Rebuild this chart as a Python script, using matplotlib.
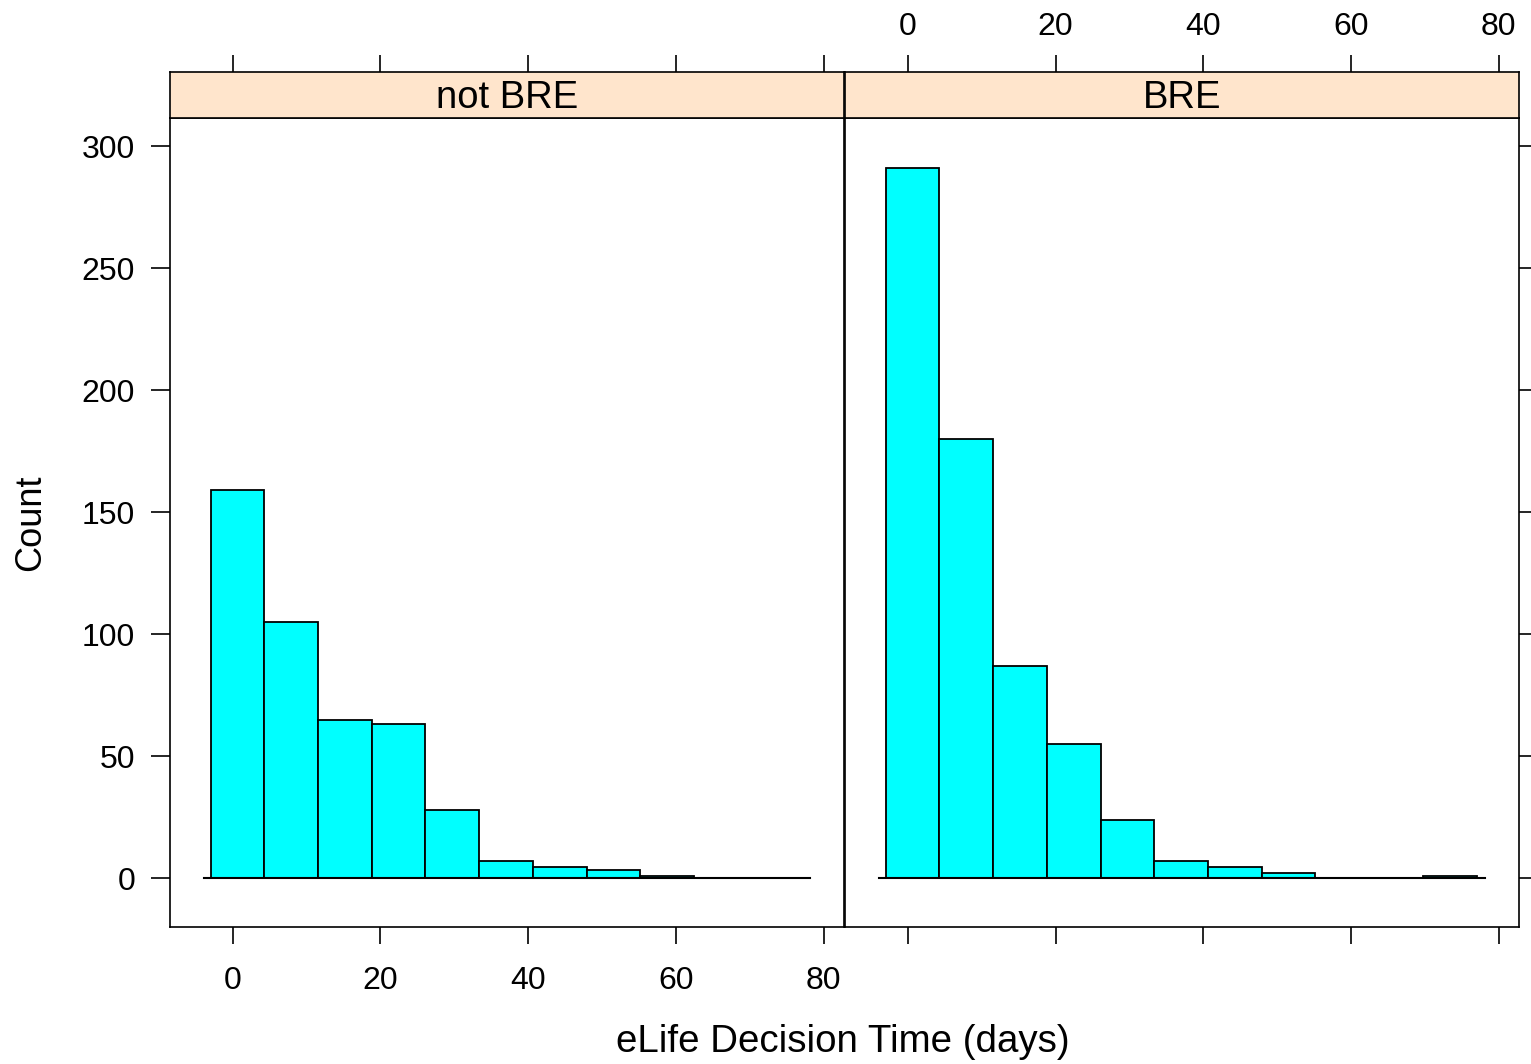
import matplotlib.pyplot as plt

plt.rcParams['font.family'] = ['Liberation Sans', 'DejaVu Sans']

# bin edges (days) and counts
bin_edges = [-3.0, 4.27, 11.55, 18.82, 26.09, 33.36, 40.64, 47.91, 55.18, 62.45, 69.73, 77.0]
counts_not_bre = [159, 105, 65, 63, 28, 7, 4.5, 3.3, 1, 0, 0]
counts_bre = [291, 180, 87, 55, 24, 7, 4.5, 2, 0, 0, 1]
panel_names = ['not BRE', 'BRE']
x_ticks = [0, 20, 40, 60, 80]
y_ticks = [0, 50, 100, 150, 200, 250, 300]

fill_col = '#00FFFF'
strip_col = '#FFE5CC'
xlim = (-8.5, 82.7)
ylim = (-20, 311.5)

fig = plt.figure(figsize=(15.31, 10.64), dpi=100)

lefts = [0.111, 0.552]
w = 0.440
bot, h = 0.1288, 0.7602
strip_h = 0.043

for i, (name, cnt) in enumerate(zip(panel_names, [counts_not_bre, counts_bre])):
    ax = fig.add_axes([lefts[i], bot, w, h])
    widths = [b - a for a, b in zip(bin_edges[:-1], bin_edges[1:])]
    ax.bar(bin_edges[:-1], cnt, width=widths, align='edge', color=fill_col,
           edgecolor='black', linewidth=1.3)
    ax.plot([-3.9, 78.1], [0, 0], color='black', lw=1.5)
    ax.set_xlim(*xlim)
    ax.set_ylim(*ylim)
    ax.set_xticks(x_ticks)
    ax.set_yticks(y_ticks)
    for s in ax.spines.values():
        s.set_linewidth(1.2)
    ax.tick_params(direction='out', length=12, width=1.2, labelsize=23)
    ax.tick_params(axis='x', pad=16)
    if i == 0:
        ax.tick_params(axis='y', left=True, right=False, labelleft=True, pad=11, length=14)
        ax.tick_params(axis='x', bottom=True, labelbottom=True)
    else:
        ax.tick_params(axis='y', left=False, labelleft=False, right=True, labelright=False, length=14)
        ax.tick_params(axis='x', bottom=True, labelbottom=False)

    # strip
    sx = fig.add_axes([lefts[i], bot + h, w, strip_h])
    sx.set_facecolor(strip_col)
    sx.set_xlim(*xlim)
    sx.set_ylim(0, 1)
    sx.set_yticks([])
    sx.set_xticks(x_ticks)
    for s in sx.spines.values():
        s.set_linewidth(1.2)
    sx.tick_params(axis='x', direction='out', length=12, width=1.2, labelsize=23, pad=10,
                   bottom=False, labelbottom=False, top=True, labeltop=(i == 1))
    sx.text(0.5, 0.45, name, transform=sx.transAxes, ha='center', va='center', fontsize=27.5)

fig.text(0.5505, 0.021, 'eLife Decision Time (days)', ha='center', va='center', fontsize=27.7)
fig.text(0.02, 0.509, 'Count', ha='center', va='center', rotation=90, fontsize=26)

fig.savefig('out.png', dpi=100)
